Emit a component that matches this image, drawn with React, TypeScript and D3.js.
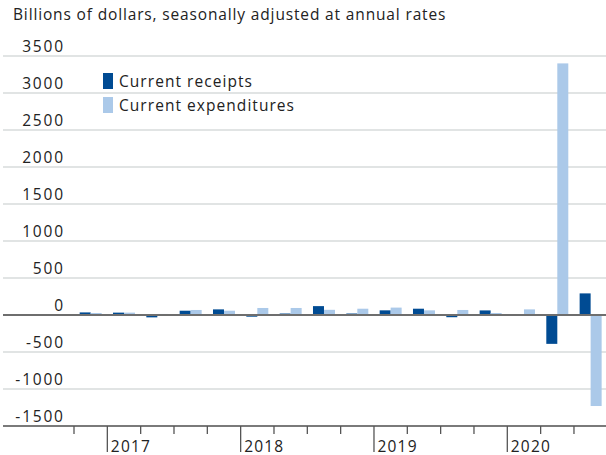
import React from "react";
import * as d3 from "d3";

const quarters = [
  "2016Q4",
  "2017Q1", "2017Q2", "2017Q3", "2017Q4",
  "2018Q1", "2018Q2", "2018Q3", "2018Q4",
  "2019Q1", "2019Q2", "2019Q3", "2019Q4",
  "2020Q1", "2020Q2", "2020Q3",
];
const receipts = [35, 32, -32, 58, 76, -23, 20, 120, 20, 63, 85, -30, 62, -5, -390, 292];
const expenditures = [27, 32, 14, 68, 58, 95, 95, 70, 85, 100, 63, 68, 27, 76, 3400, -1230];
const yTicks = [3500, 3000, 2500, 2000, 1500, 1000, 500, 0, -500, -1000, -1500];
const seriesNames = ["Current receipts", "Current expenditures"];
const colors = ["#004b93", "#abc9e9"];
const title = "Billions of dollars, seasonally adjusted at annual rates";

const W = 606;
const H = 455;
const FONT = "'Open Sans', sans-serif";

export default function App() {
  const x = d3.scaleBand<string>().domain(quarters).range([74, 607.3]).paddingInner(0).paddingOuter(0);
  const bw = x.bandwidth();
  const inner = d3.scaleBand<string>().domain(["r", "e"]).range([bw * 0.17, bw * 0.83]);
  const y = d3.scaleLinear().domain([-1500, 3500]).range([426, 56]);
  const gridLeft = 3;
  const gridRight = 606;
  const numSpacing = 1.8;

  const series = [receipts, expenditures];

  return (
    <svg width={W} height={H} style={{ position: "absolute", left: 0, top: 0, background: "#fff" }} fontFamily={FONT}>
      <text x={13} y={20} fontSize={15.5} letterSpacing={0.85} fill="#222">{title}</text>
      {yTicks.map((t) => (
        <g key={t}>
          {t !== 0 && t !== -1500 && (
            <line x1={gridLeft} x2={gridRight} y1={y(t)} y2={y(t)} stroke="#d7dbdb" strokeWidth={1.5} />
          )}
          <text x={63 + numSpacing} y={y(t) - 4} textAnchor="end" fontSize={15.5} letterSpacing={numSpacing} fill="#222">{t}</text>
        </g>
      ))}
      {/* legend */}
      {seriesNames.map((n, i) => (
        <g key={n}>
          <rect x={103} y={73 + i * 24} width={10} height={16} fill={colors[i]} />
          <text x={119} y={87 + i * 24} fontSize={15.5} letterSpacing={1.05} fill="#222">{n}</text>
        </g>
      ))}
      {/* bars */}
      {quarters.map((q, qi) =>
        series.map((s, si) => {
          const v = s[qi];
          const x0 = (x(q) as number) + (inner(si === 0 ? "r" : "e") as number);
          const y0 = y(Math.max(0, v));
          const h = Math.abs(y(v) - y(0));
          return <rect key={q + si} x={x0} y={y0} width={inner.bandwidth()} height={h} fill={colors[si]} />;
        })
      )}
      {/* zero line */}
      <line x1={gridLeft} x2={gridRight} y1={y(0)} y2={y(0)} stroke="#6e6e6e" strokeWidth={1.8} />
      {/* x axis */}
      <line x1={gridLeft} x2={gridRight} y1={y(-1500)} y2={y(-1500)} stroke="#7a7a7a" strokeWidth={2} />
      {quarters.map((q) => {
        const xx = x(q) as number;
        const isYear = q.endsWith("Q1");
        return (
          <g key={"t" + q}>
            <line x1={xx} x2={xx} y1={y(-1500)} y2={isYear ? 452 : 434} stroke="#555" strokeWidth={1.3} />
            {isYear && (
              <text x={xx + 3.5} y={451.5} fontSize={15.5} letterSpacing={1.2} fill="#222">{q.slice(0, 4)}</text>
            )}
          </g>
        );
      })}
    </svg>
  );
}
